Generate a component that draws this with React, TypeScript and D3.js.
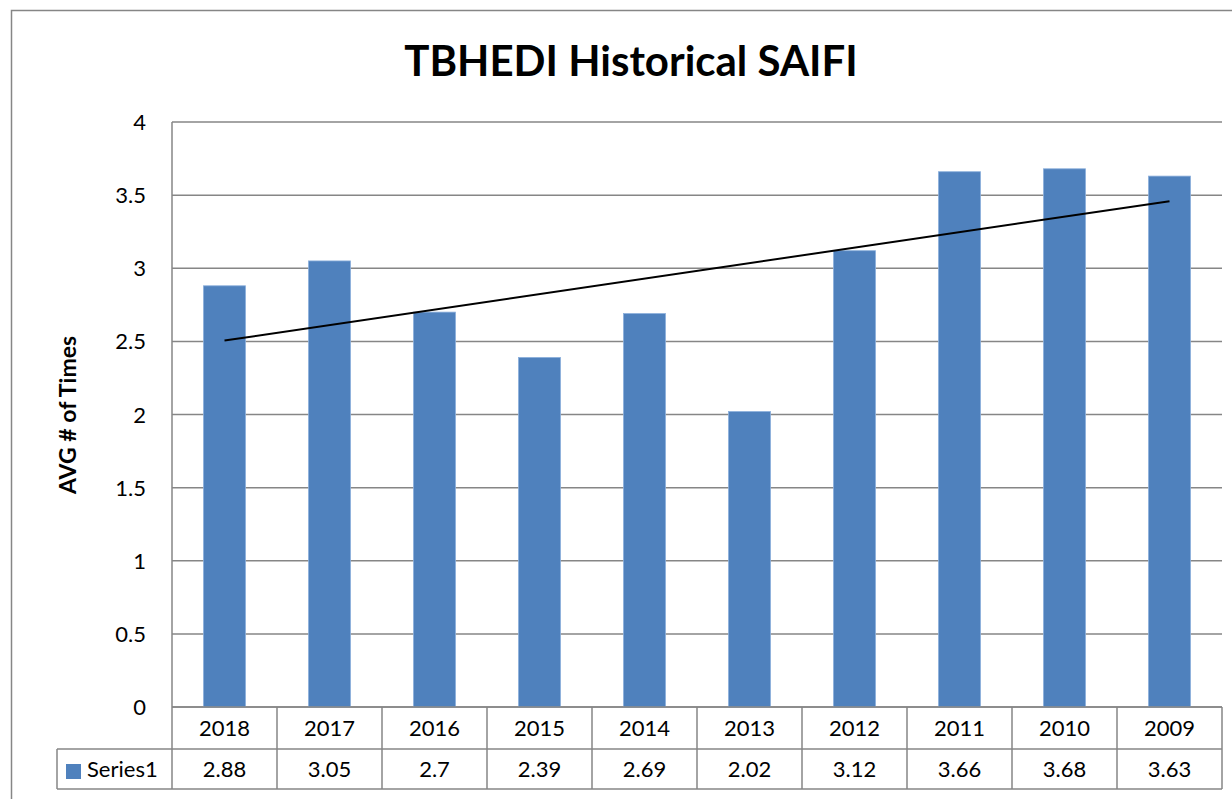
import React, { useEffect, useRef } from 'react';
import * as d3 from 'd3';

const years = ['2018', '2017', '2016', '2015', '2014', '2013', '2012', '2011', '2010', '2009'];
const saifi = [2.88, 3.05, 2.7, 2.39, 2.69, 2.02, 3.12, 3.66, 3.68, 3.63];
const yTicks = [0, 0.5, 1, 1.5, 2, 2.5, 3, 3.5, 4];
const seriesName = 'Series1';
const chartTitle = 'TBHEDI Historical SAIFI';
const yLabel = 'AVG # of Times';

const App: React.FC = () => {
  const svgRef = useRef<SVGSVGElement>(null);

  useEffect(() => {
    const svg = d3.select(svgRef.current);
    svg.selectAll('*').remove();

    const font = 'Lato, "Open Sans", sans-serif';
    const grid = '#868686';
    const margin = { top: 122, right: 1222, bottom: 707, left: 172 };
    const rowH = [42, 40];
    const legendLeft = 57;

    // outer chart frame
    svg.append('rect')
      .attr('x', 11.5).attr('y', 10.5)
      .attr('width', 1260).attr('height', 820)
      .attr('fill', 'white')
      .attr('stroke', grid).attr('stroke-width', 1.5);

    const x = d3.scaleBand()
      .domain(years)
      .range([margin.left, margin.right])
      .paddingInner(0.6)
      .paddingOuter(0.3);

    const y = d3.scaleLinear()
      .domain([0, 4])
      .range([margin.bottom, margin.top]);

    // gridlines
    svg.append('g')
      .selectAll('line')
      .data(yTicks)
      .join('line')
      .attr('x1', margin.left).attr('x2', margin.right)
      .attr('y1', d => y(d)).attr('y2', d => y(d))
      .attr('stroke', grid).attr('stroke-width', 1.5);

    svg.append('line')
      .attr('x1', margin.left).attr('x2', margin.left)
      .attr('y1', margin.top).attr('y2', margin.bottom)
      .attr('stroke', grid).attr('stroke-width', 1.5);

    // y tick labels
    svg.append('g')
      .selectAll('text')
      .data(yTicks)
      .join('text')
      .attr('x', 146)
      .attr('y', d => y(d) + 8)
      .attr('text-anchor', 'end')
      .style('font-family', font)
      .style('font-size', '22px')
      .text(d => String(d));

    // bars
    svg.append('g')
      .selectAll('rect')
      .data(saifi)
      .join('rect')
      .attr('x', (_, i) => x(years[i])!)
      .attr('y', d => y(d))
      .attr('width', x.bandwidth())
      .attr('height', d => y(0) - y(d))
      .attr('fill', '#4f81bd')
      .attr('stroke', '#8aaedb')
      .attr('stroke-width', 0.8);

    // linear trendline (least squares, like Excel)
    const xs = saifi.map((_, i) => i + 1);
    const mx = d3.mean(xs)!;
    const my = d3.mean(saifi)!;
    const slope = d3.sum(xs, (v, i) => (v - mx) * (saifi[i] - my)) / d3.sum(xs, v => (v - mx) ** 2);
    const fit = (v: number) => my + slope * (v - mx);
    const cx = (i: number) => x(years[i])! + x.bandwidth() / 2;
    svg.append('line')
      .attr('x1', cx(0)).attr('y1', y(fit(1)))
      .attr('x2', cx(years.length - 1)).attr('y2', y(fit(years.length)))
      .attr('stroke', 'black').attr('stroke-width', 2);

    // data table
    const colW = (margin.right - margin.left) / years.length;
    const r1 = margin.bottom;
    const r2 = r1 + rowH[0];
    const r3 = r2 + rowH[1];
    const tbl = svg.append('g').attr('stroke', grid).attr('stroke-width', 1.5);
    tbl.append('line').attr('x1', margin.left).attr('x2', margin.right).attr('y1', r1).attr('y2', r1);
    tbl.append('line').attr('x1', legendLeft).attr('x2', margin.right).attr('y1', r2).attr('y2', r2);
    tbl.append('line').attr('x1', legendLeft).attr('x2', margin.right).attr('y1', r3).attr('y2', r3);
    tbl.append('line').attr('x1', legendLeft).attr('x2', legendLeft).attr('y1', r2).attr('y2', r3);
    tbl.selectAll('line.v')
      .data(d3.range(years.length + 1))
      .join('line')
      .attr('class', 'v')
      .attr('x1', i => margin.left + i * colW).attr('x2', i => margin.left + i * colW)
      .attr('y1', r1).attr('y2', r3);

    svg.append('g')
      .selectAll('text')
      .data(years)
      .join('text')
      .attr('x', (_, i) => margin.left + (i + 0.5) * colW)
      .attr('y', r1 + 29)
      .attr('text-anchor', 'middle')
      .style('font-family', font)
      .style('font-size', '22px')
      .text(d => d);

    svg.append('g')
      .selectAll('text')
      .data(saifi)
      .join('text')
      .attr('x', (_, i) => margin.left + (i + 0.5) * colW)
      .attr('y', r2 + 28)
      .attr('text-anchor', 'middle')
      .style('font-family', font)
      .style('font-size', '22px')
      .text(d => String(d));

    svg.append('rect')
      .attr('x', 66).attr('y', r2 + 15)
      .attr('width', 15).attr('height', 15)
      .attr('fill', '#4f81bd');
    svg.append('text')
      .attr('x', 87).attr('y', r2 + 28)
      .style('font-family', font)
      .style('font-size', '22px')
      .text(seriesName);

    // title
    svg.append('text')
      .attr('x', 631).attr('y', 76)
      .attr('text-anchor', 'middle')
      .style('font-family', font)
      .style('font-weight', 'bold')
      .style('font-size', '42px')
      .text(chartTitle);

    // y axis label
    svg.append('text')
      .attr('transform', `translate(76,415) rotate(-90)`)
      .attr('text-anchor', 'middle')
      .style('font-family', font)
      .style('font-weight', 'bold')
      .style('font-size', '23px')
      .text(yLabel);
  }, []);

  return (
    <svg
      ref={svgRef}
      width={1232}
      height={799}
      style={{ position: 'absolute', left: 0, top: 0, background: 'white' }}
    />
  );
};

export default App;
